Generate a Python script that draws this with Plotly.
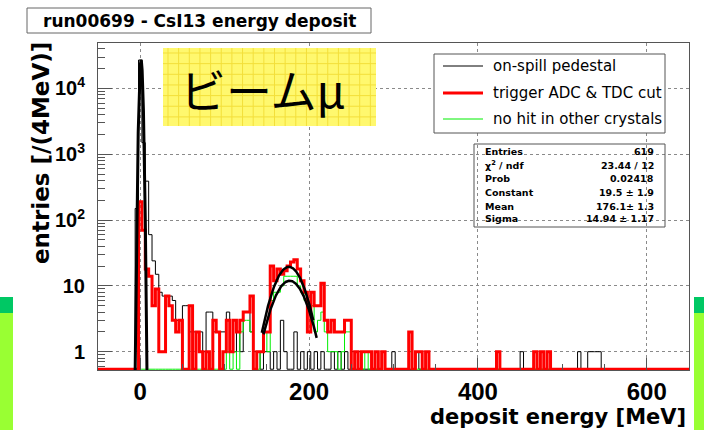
import numpy as np
import plotly.graph_objects as go

# ---------------- data ----------------
bin_width = 4          # MeV per bin
x_min, x_max = -50, 650
y_log_min, y_log_max = -0.278, 4.69

# counts per bin, keyed by the bin's lower edge (MeV); all other bins are empty
pedestal_counts = {  # on-spill pedestal (black, thin)
    -6: 150, -2: 27000, 2: 1500, 6: 390, 10: 60, 14: 24, 18: 15, 22: 8, 26: 7,
    30: 7, 34: 7, 38: 6, 42: 3, 46: 3, 50: 5, 54: 5, 58: 2, 62: 2, 66: 2, 70: 2,
    74: 1, 78: 4, 82: 4, 86: 2, 90: 2, 94: 2, 98: 2, 102: 4, 106: 1, 110: 1,
    114: 2, 118: 1, 122: 4, 126: 4, 130: 2, 134: 1, 138: 1, 146: 1, 150: 1,
    158: 1, 166: 3, 170: 1, 182: 2, 190: 1, 198: 1, 206: 1, 214: 1, 226: 1,
    234: 1, 242: 1, 250: 1, 258: 1, 286: 1, 298: 1, 326: 1, 338: 1, 450: 1,
    518: 1, 530: 1, 534: 1, 538: 1, 542: 1,
}
trigger_counts = {  # trigger ADC & TDC cut (red, thick)
    -2: 190, 2: 70, 6: 18, 10: 14, 14: 5, 18: 9, 22: 1, 26: 1, 30: 7, 34: 5,
    38: 3, 42: 2, 46: 3, 58: 5, 66: 2, 70: 1, 78: 1, 86: 3, 90: 2, 98: 1,
    102: 3, 106: 1, 110: 3, 114: 2, 118: 3, 122: 4, 126: 4, 130: 7, 138: 1,
    142: 1, 146: 2, 150: 2, 154: 20, 158: 12, 162: 18, 166: 15, 170: 17,
    174: 20, 178: 23, 182: 25, 186: 18, 190: 12, 194: 8, 198: 2, 202: 8,
    206: 5, 210: 5, 214: 11, 218: 3, 222: 2, 226: 3, 230: 2, 234: 2, 238: 2,
    242: 3, 246: 3, 254: 1, 262: 1, 266: 1, 270: 1, 278: 1, 286: 1, 318: 2,
    326: 1, 330: 1, 338: 1, 422: 1, 466: 1, 474: 1, 482: 1,
}
nohit_counts = {  # no hit in other crystals (green, thin)
    102: 1, 110: 1, 118: 2, 122: 3, 126: 3, 130: 2, 142: 1, 146: 2, 150: 1,
    154: 6, 158: 8, 162: 8, 166: 10, 170: 14, 174: 14, 178: 14, 182: 14,
    186: 10, 190: 8, 194: 6, 198: 2, 202: 5, 206: 2, 210: 3, 214: 4, 218: 2,
    222: 1, 226: 1, 230: 1, 238: 1, 242: 2, 246: 2, 254: 1, 266: 1, 286: 1,
    318: 1,
}

# Gaussian fit results: constant, mean, sigma, fit range low, fit range high
pedestal_fit = [27000.0, 1.0, 1.5, -6.0, 8.0]
trigger_fit = [19.5, 176.1, 14.94, 144.0, 205.0]
nohit_fit = [12.0, 177.0, 16.0, 146.0, 209.0]

series_names = ["on-spill pedestal", "trigger ADC & TDC cut", "no hit in other crystals"]
x_tick_vals = [0, 200, 400, 600]
y_tick_vals = [1, 10, 100, 1000, 10000]
y_tick_text = ["1", "10", "10<sup>2</sup>", "10<sup>3</sup>", "10<sup>4</sup>"]

stats_labels = ["Entries", "χ<sup>2</sup> / ndf", "Prob", "Constant", "Mean", "Sigma"]
stats_values = ["619", "23.44 / 12", "0.02418", "19.5 ± 1.9", "176.1± 1.3", "14.94 ± 1.17"]

# ---------------- build ----------------
edges = np.arange(x_min, x_max + bin_width, bin_width)
n_bins = len(edges) - 1
y_floor = 10 ** (y_log_min + 0.012)


def to_array(d):
    arr = np.zeros(n_bins)
    for lo, c in d.items():
        assert (lo - x_min) % bin_width == 0
        arr[(lo - x_min) // bin_width] = c
    return arr


def step_trace(d, color, width):
    vals = to_array(d)
    vals = np.where(vals > 0, vals, y_floor)
    y = np.append(vals, vals[-1])
    return go.Scatter(x=edges, y=y, mode="lines", line=dict(color=color, width=width, shape="hv"),
                      hoverinfo="skip")


def fit_trace(p, color, width):
    c, m, s, lo, hi = p
    xs = np.linspace(lo, hi, 300)
    ys = c * np.exp(-0.5 * ((xs - m) / s) ** 2)
    return go.Scatter(x=xs, y=ys, mode="lines", line=dict(color=color, width=width), hoverinfo="skip")


fig = go.Figure()
fig.add_trace(step_trace(pedestal_counts, "#000000", 1))
fig.add_trace(step_trace(nohit_counts, "#00ee00", 1))
fig.add_trace(step_trace(trigger_counts, "#ff0000", 3))
fig.add_trace(fit_trace(pedestal_fit, "#000000", 3))
fig.add_trace(fit_trace(trigger_fit, "#000000", 2.5))
fig.add_trace(fit_trace(nohit_fit, "#000000", 2.5))

W, H = 704, 430
L, R, T, B = 98, 15, 43, 60
PW, PH = W - L - R, H - T - B


def px(x):
    return (x - L) / PW


def py(y):
    return (H - B - y) / PH


FONT = "Liberation Sans, Arial, Helvetica, sans-serif"
WIDE = "DejaVu Sans, Verdana, sans-serif"
AX = "#555555"

shapes = []
annotations = []

# side decoration bars (slide background)
for x0, x1 in [(0, 13), (694, 704)]:
    shapes.append(dict(type="rect", xref="paper", yref="paper", x0=px(x0), x1=px(x1),
                       y0=py(313), y1=py(297), line=dict(width=0), fillcolor="#00c864", layer="below"))
    shapes.append(dict(type="rect", xref="paper", yref="paper", x0=px(x0), x1=px(x1),
                       y0=py(431), y1=py(313), line=dict(width=0), fillcolor="#99ff33", layer="below"))

# title box
shapes.append(dict(type="rect", xref="paper", yref="paper", x0=px(27), x1=px(371), y0=py(33), y1=py(8),
                   line=dict(color="#666666", width=1), fillcolor="white", layer="above"))
annotations.append(dict(xref="paper", yref="paper", x=px(199), y=py(21), text="<b>run00699 - CsI13 energy deposit</b>",
                        showarrow=False, xanchor="center", yanchor="middle",
                        font=dict(family=WIDE, size=17, color="black")))

# yellow label box with grid texture
yx0, yx1, yy0, yy1 = 163, 376, 48, 126
shapes.append(dict(type="rect", xref="paper", yref="paper", x0=px(yx0), x1=px(yx1), y0=py(yy1), y1=py(yy0),
                   line=dict(width=0), fillcolor="#fff86e", layer="above"))
gx = yx0 + 5
while gx < yx1:
    shapes.append(dict(type="line", xref="paper", yref="paper", x0=px(gx), x1=px(gx), y0=py(yy1), y1=py(yy0),
                       line=dict(color="#f3df3a", width=1), layer="above"))
    gx += 10.65
gy = yy0 + 5
while gy < yy1:
    shapes.append(dict(type="line", xref="paper", yref="paper", x0=px(yx0), x1=px(yx1), y0=py(gy), y1=py(gy),
                       line=dict(color="#f3df3a", width=1), layer="above"))
    gy += 10.65
annotations.append(dict(xref="paper", yref="paper", x=px(263), y=py(88), text="ビームμ", showarrow=False,
                        xanchor="center", yanchor="middle",
                        font=dict(family="Noto Sans CJK JP", size=46, color="black")))

# legend box
shapes.append(dict(type="rect", xref="paper", yref="paper", x0=px(434), x1=px(665), y0=py(133), y1=py(54),
                   line=dict(color=AX, width=1), fillcolor="white", layer="above"))
leg_rows = [66, 93, 119]
leg_styles = [("#000000", 1), ("#ff0000", 3), ("#00ee00", 1)]
for yrow, (col, wid), name in zip(leg_rows, leg_styles, series_names):
    shapes.append(dict(type="line", xref="paper", yref="paper", x0=px(443), x1=px(483), y0=py(yrow), y1=py(yrow),
                       line=dict(color=col, width=wid), layer="above"))
    annotations.append(dict(xref="paper", yref="paper", x=px(491), y=py(yrow), text=name, showarrow=False,
                            xanchor="left", yanchor="middle",
                            font=dict(family=WIDE, size=15, color="black")))

# stats box (transparent)
shapes.append(dict(type="rect", xref="paper", yref="paper", x0=px(474), x1=px(665), y0=py(227), y1=py(144),
                   line=dict(color=AX, width=1), fillcolor="rgba(0,0,0,0)", layer="above"))
stat_rows = [151, 165, 178, 192, 206, 219]
for yrow, lab, val in zip(stat_rows, stats_labels, stats_values):
    annotations.append(dict(xref="paper", yref="paper", x=px(483), y=py(yrow), text="<b>" + lab + "</b>",
                            showarrow=False, xanchor="left", yanchor="middle",
                            font=dict(family=WIDE, size=9.5, color="black")))
    annotations.append(dict(xref="paper", yref="paper", x=px(656), y=py(yrow), text="<b>" + val + "</b>",
                            showarrow=False, xanchor="right", yanchor="middle",
                            font=dict(family=WIDE, size=9.5, color="black")))

# axis titles (ROOT style: right / top aligned)
annotations.append(dict(xref="paper", yref="paper", x=px(688), y=py(417), text="<b>deposit energy [MeV]</b>",
                        showarrow=False, xanchor="right", yanchor="middle",
                        font=dict(family=WIDE, size=21, color="black")))
annotations.append(dict(xref="paper", yref="paper", x=px(41), y=py(40), text="<b>entries [/(4MeV)]</b>",
                        showarrow=False, xanchor="center", yanchor="top", textangle=-90,
                        font=dict(family=WIDE, size=23, color="black")))

minor_y = [m * 10.0 ** d for d in range(-1, 5) for m in range(2, 10)]

fig.update_layout(
    width=W, height=H, margin=dict(l=L, r=R, t=T, b=B),
    paper_bgcolor="white", plot_bgcolor="white", showlegend=False,
    shapes=shapes, annotations=annotations,
    xaxis=dict(range=[x_min, x_max], tickmode="array", tickvals=x_tick_vals,
               ticks="inside", ticklen=12, tickcolor=AX, tickwidth=1,
               showline=True, mirror=True, linecolor=AX, linewidth=1,
               showgrid=True, gridcolor="#8a8a8a", griddash="dot", gridwidth=1, zeroline=False,
               tickfont=dict(family=FONT, size=24, color="black", weight="bold"),
               ticklabelstandoff=0,
               minor=dict(tickmode="linear", tick0=0, dtick=50, ticks="inside", ticklen=6,
                          tickcolor=AX, showgrid=False)),
    yaxis=dict(type="log", range=[y_log_min, y_log_max], tickmode="array",
               tickvals=y_tick_vals, ticktext=y_tick_text,
               ticks="inside", ticklen=14, tickcolor=AX, tickwidth=1,
               showline=True, mirror=True, linecolor=AX, linewidth=1,
               showgrid=True, gridcolor="#8a8a8a", griddash="dot", gridwidth=1, zeroline=False,
               tickfont=dict(family=FONT, size=20, color="black", weight="bold"),
               ticklabelstandoff=8,
               minor=dict(tickmode="array", tickvals=minor_y, ticks="inside", ticklen=7,
                          tickcolor=AX, showgrid=False)),
)

fig.write_html("out.html")
